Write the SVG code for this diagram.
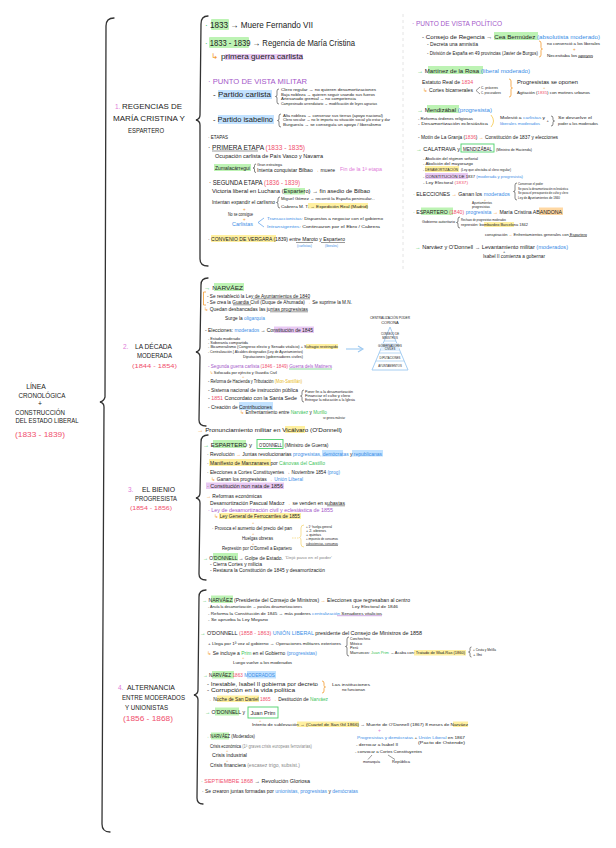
<svg xmlns="http://www.w3.org/2000/svg" width="616" height="848" viewBox="0 0 616 848">
<style>
text{font-family:"Liberation Sans",Arial,sans-serif;fill:#222;}
.r{fill:#f0506e}.b{fill:#3a8de6}.p{fill:#a457c9}.g{fill:#3cc45a}.o{fill:#f29a2e}.k{fill:#e07ad8}.gr{fill:#888}.y{fill:#e8b820}
.hg{fill:#bdf3b4}.hb{fill:#c2e2ff}.hy{fill:#fff0a0}.hp{fill:#e8c9f3}.ho{fill:#ffd8a3}
.br{fill:none;stroke:#333;stroke-width:1.3;stroke-linecap:round}
.ln{fill:none;stroke:#333;stroke-width:0.5}
.cb{fill:none;stroke:#333;stroke-width:0.6}
.ob{fill:none;stroke:#f29a2e;stroke-width:0.8}
.bx{fill:none;stroke:#4cd06a;stroke-width:0.9}
.ti{font-size:6.8px}
</style>
<rect width="616" height="848" fill="#fff"/>

<g id="connectors">
<path class="br" d="M114,18 Q106,18 106,26 L105,397 Q104,401 100,402 Q104,403 104,407 L102,824 Q102,832 110,832"/>
<path class="br" d="M208,16 Q201,16 201,24 L200,115 Q200,119 196,120 Q200,121 200,125 L200,259 Q200,266 208,266"/>
<path class="br" d="M208,278 Q201,278 201,285 L200,347 Q200,351 196,352 Q200,353 200,357 L199,420 Q199,426 206,426"/>
<path class="br" d="M208,435 Q201,435 201,442 L200,493 Q200,497 196,498 Q200,499 200,503 L199,574 Q199,580 206,580"/>
<path class="br" d="M206,590 Q199,590 199,597 L198,690 Q198,694 194,695 Q198,696 198,700 L197,798 Q197,804 203,804"/>
<line x1="403" y1="14" x2="403" y2="272" stroke="#ddd" stroke-width="0.8" stroke-dasharray="3,3"/>
<line x1="346" y1="349" x2="362" y2="349" stroke="#9cc8f0" stroke-width="1.1"/>
<path d="M358,346 L363,349 L358,352" fill="none" stroke="#9cc8f0" stroke-width="1.1"/>
<path class="cb" d="M279,89 Q277,89 277,91 L277,95 Q277,96.5 275.5,96.5 Q277,96.5 277,98 L277,102 Q277,104 279,104"/>
<path class="cb" d="M281,114 Q279,114 279,116 L279,119 Q279,120.5 277.5,120.5 Q279,120.5 279,122 L279,125 Q279,127 281,127"/>
<path class="cb" d="M256,164 Q254.5,164 254.5,165.5 L254.5,167 Q254.5,168 253,168 Q254.5,168 254.5,169 L254.5,171 Q254.5,172.5 256,172.5"/>
<path class="cb" d="M280,197 Q278,197 278,199 L278,201 Q278,202.5 276.5,202.5 Q278,202.5 278,204 L278,206 Q278,208 280,208"/>
<path class="ob" d="M539,41 Q541,41 541,43 L541,47.5 Q541,49 542.5,49 Q541,49 541,50.5 L541,55 Q541,57 539,57"/>
<path class="ob" d="M509,79 Q511,79 511,81 L511,86.5 Q511,88 512.5,88 Q511,88 511,89.5 L511,95 Q511,97 509,97"/>
<path class="cb" d="M551,116 Q553,116 553,118 L553,119.5 Q553,121 554.5,121 Q553,121 553,122.5 L553,124 Q553,126 551,126"/>
<path class="cb" d="M517,183 Q515,183 515,185 L515,190 Q515,191.5 513.5,191.5 Q515,191.5 515,193 L515,198 Q515,200 517,200"/>
<path class="cb" d="M460,217 Q458,217 458,219 L458,221 Q458,222.5 456.5,222.5 Q458,222.5 458,224 L458,226 Q458,228 460,228"/>
<path class="cb" d="M304,390 Q302,390 302,392 L302,394.5 Q302,396 300.5,396 Q302,396 302,397.5 L302,400 Q302,402 304,402"/>
<path class="cb" d="M349,637 Q347,637 347,639 L347,645 Q347,646.5 345.5,646.5 Q347,646.5 347,648 L347,654 Q347,656 349,656"/>
<path class="cb" d="M471.5,647 Q470,647 470,648.5 L470,650.5 Q470,652 468.5,652 Q470,652 470,653.5 L470,655.5 Q470,657 471.5,657"/>
<path class="ob" d="M322,681 Q324,681 324,683 L324,685.5 Q324,687 325.5,687 Q324,687 324,688.5 L324,691 Q324,693 322,693"/>
<path d="M304,525 Q301,525 301,528 L301,535 Q301,537 299.5,537.5 Q301,538 301,540 L301,544 Q301,547 304,547" fill="none" stroke="#f5d36a" stroke-width="0.7"/>
<line x1="292" y1="538" x2="299" y2="538" stroke="#f5d36a" stroke-width="0.7" stroke-dasharray="1.5,1"/>
<path d="M491,115 Q496,121 491,127" fill="none" stroke="#f5c84a" stroke-width="0.8"/>
<path d="M264,218 L258,222.5 L264,227" fill="none" stroke="#3a8de6" stroke-width="0.6"/>
<path d="M480,87 L476,90.5 L480,94" class="ln"/>
<path class="ob" d="M206,292 L203.5,292 L203.5,305 L206,305"/>
<path class="ln" d="M372,755 L368,759.5 M388,755 L395,759.5"/>
</g>

<g id="main-title">
<text x="36" y="389" text-anchor="middle" class="ti">LÍNEA</text>
<text x="42" y="397.5" text-anchor="middle" class="ti" textLength="47" lengthAdjust="spacingAndGlyphs">CRONOLÓGICA</text>
<text x="40" y="405.5" text-anchor="middle" class="ti">+</text>
<text x="40" y="414.5" text-anchor="middle" class="ti" textLength="50" lengthAdjust="spacingAndGlyphs">CONSTRUCCIÓN</text>
<text x="47" y="423" text-anchor="middle" class="ti" textLength="63" lengthAdjust="spacingAndGlyphs">DEL ESTADO LIBERAL</text>
<text x="40" y="437" text-anchor="middle" class="r" font-size="8" textLength="50" lengthAdjust="spacingAndGlyphs">(1833 - 1839)</text>
</g>

<g id="title-1">
<text x="115" y="109" class="k" font-size="6.5">1.</text>
<text x="122" y="109" class="ti" textLength="60" lengthAdjust="spacingAndGlyphs">REGENCIAS DE</text>
<text x="113" y="121" class="ti" textLength="72" lengthAdjust="spacingAndGlyphs">MARÍA CRISTINA Y</text>
<text x="128" y="133" class="ti" textLength="36" lengthAdjust="spacingAndGlyphs">ESPARTERO</text>
</g>
<g id="title-2">
<text x="123" y="349" class="k" font-size="6.5">2.</text>
<text x="135" y="349" class="ti" textLength="37" lengthAdjust="spacingAndGlyphs">LA DÉCADA</text>
<text x="137" y="358" class="ti" textLength="35" lengthAdjust="spacingAndGlyphs">MODERADA</text>
<text x="132" y="367.5" class="r" font-size="6" textLength="45" lengthAdjust="spacingAndGlyphs">(1844 - 1854)</text>
</g>
<g id="title-3">
<text x="128" y="492" class="k" font-size="6.5">3.</text>
<text x="142" y="492" class="ti" textLength="33" lengthAdjust="spacingAndGlyphs">EL BIENIO</text>
<text x="135" y="501" class="ti" textLength="42" lengthAdjust="spacingAndGlyphs">PROGRESISTA</text>
<text x="130" y="510" class="r" font-size="6" textLength="42" lengthAdjust="spacingAndGlyphs">(1854 - 1856)</text>
</g>
<g id="title-4">
<text x="118" y="689.5" class="k" font-size="6.5">4.</text>
<text x="127" y="689.5" class="ti" textLength="48" lengthAdjust="spacingAndGlyphs">ALTERNANCIA</text>
<text x="122" y="700" class="ti" textLength="63" lengthAdjust="spacingAndGlyphs">ENTRE MODERADOS</text>
<text x="125" y="709.5" class="ti" textLength="43" lengthAdjust="spacingAndGlyphs">Y UNIONISTAS</text>
<text x="123" y="721" class="r" font-size="7" textLength="50" lengthAdjust="spacingAndGlyphs">(1856 - 1868)</text>
</g>

<g id="s1-regencia">
<rect class="hg" x="211" y="19" width="18" height="11" rx="1"/>
<text x="205" y="28" font-size="8.5" textLength="108" lengthAdjust="spacingAndGlyphs"><tspan class="g">·</tspan> 1833 → Muere Fernando VII</text>
<rect class="hg" x="209" y="37" width="40" height="11" rx="1"/>
<text x="205" y="46" font-size="8.5" textLength="150" lengthAdjust="spacingAndGlyphs"><tspan class="g">·</tspan> 1833 - 1839 → Regencia de María Cristina</text>
<rect class="hp" x="225" y="54" width="78" height="6"/>
<text x="211" y="59" font-size="7.5" textLength="92" lengthAdjust="spacingAndGlyphs"><tspan class="o">↳</tspan>   primera guerra carlista</text>
</g>

<g id="s1-militar">
<text x="208" y="84" font-size="7" class="p" textLength="99" lengthAdjust="spacingAndGlyphs">· PUNTO DE VISTA MILITAR</text>
<rect class="hb" x="218" y="90" width="54" height="9"/>
<text x="213" y="97" font-size="7" textLength="58" lengthAdjust="spacingAndGlyphs">- Partido carlista</text>
<text x="281" y="91" font-size="3.8" textLength="95" lengthAdjust="spacingAndGlyphs">Clero regular → no quieren desamortizaciones</text>
<text x="281" y="95.5" font-size="3.8" textLength="94" lengthAdjust="spacingAndGlyphs">Baja nobleza → quieren seguir usando sus fueros</text>
<text x="281" y="100" font-size="3.8" textLength="75" lengthAdjust="spacingAndGlyphs">Artesanado gremial → no competencia</text>
<text x="281" y="104.5" font-size="3.8" textLength="96" lengthAdjust="spacingAndGlyphs">Campesinado arrendatario → modificación de leyes agrarias</text>
<rect class="hb" x="218" y="115" width="56" height="9"/>
<text x="213" y="122" font-size="7" textLength="60" lengthAdjust="spacingAndGlyphs">- Partido isabelino</text>
<text x="283" y="116.5" font-size="3.8" textLength="100" lengthAdjust="spacingAndGlyphs">Alta nobleza → conservar sus tierras (apoyo nacional)</text>
<text x="283" y="121" font-size="3.8" textLength="107" lengthAdjust="spacingAndGlyphs">Clero secular → no le importa su situación social y/o estar y dar</text>
<text x="283" y="125.5" font-size="3.8" textLength="98" lengthAdjust="spacingAndGlyphs">Burguesía → se conseguía un apoyo / liberalismo</text>
</g>

<g id="s1-etapas">
<text x="208" y="139" font-size="5.5" textLength="20" lengthAdjust="spacingAndGlyphs">· ETAPAS</text>
<text x="208" y="149.5" font-size="6.5" textLength="97" lengthAdjust="spacingAndGlyphs">· PRIMERA ETAPA <tspan class="r">(1833 - 1835)</tspan></text>
<line class="ln" x1="212" y1="151" x2="258" y2="151"/>
<text x="215" y="158" font-size="5" textLength="108" lengthAdjust="spacingAndGlyphs">Ocupación carlista de País Vasco y Navarra</text>
<rect class="hg" x="214" y="164" width="37" height="7"/>
<text x="215" y="170" font-size="5.5" textLength="35" lengthAdjust="spacingAndGlyphs">Zumalacárregui</text>
<text x="257" y="166" font-size="4" textLength="25" lengthAdjust="spacingAndGlyphs">Gran estratega</text>
<text x="257" y="172" font-size="4.5" textLength="78" lengthAdjust="spacingAndGlyphs">Intenta conquistar Bilbao <tspan class="o">→</tspan> muere</text>
<text x="340" y="171" font-size="4.5" class="k" textLength="42" lengthAdjust="spacingAndGlyphs">Fin de la 1ª etapa</text>
<text x="209" y="184.5" font-size="6.5" textLength="91" lengthAdjust="spacingAndGlyphs">· SEGUNDA ETAPA <tspan class="r">(1836 - 1839)</tspan></text>
<rect class="hg" x="284" y="188" width="21" height="6.5"/>
<text x="212" y="193" font-size="5" textLength="158" lengthAdjust="spacingAndGlyphs">Victoria liberal en Luchana (Espartero) → fin asedio de Bilbao</text>
<text x="212" y="204" font-size="4.8" textLength="63" lengthAdjust="spacingAndGlyphs">Intentan expandir el carlismo</text>
<text x="281" y="199.5" font-size="4.2" textLength="94" lengthAdjust="spacingAndGlyphs">Miguel Gómez → recorrió la España peninsular...</text>
<rect class="hy" x="308" y="203" width="60" height="5.5"/>
<text x="281" y="207.5" font-size="4.2" textLength="87" lengthAdjust="spacingAndGlyphs">Cabrera M. T. → Expedición Real (Madrid)</text>
<text x="243" y="210.5" font-size="4.5" class="o">+</text>
<text x="228" y="216" font-size="5" textLength="25" lengthAdjust="spacingAndGlyphs">No se consigue</text>
<text x="243" y="220.5" font-size="4.5" class="o">+</text>
<text x="232" y="225.5" font-size="5" class="b" textLength="21" lengthAdjust="spacingAndGlyphs">Carlistas</text>
<text x="267" y="219.5" font-size="4.3" textLength="116" lengthAdjust="spacingAndGlyphs"><tspan class="b">Transaccionistas:</tspan> Dispuestos a negociar con el gobierno</text>
<text x="267" y="228" font-size="4.3" textLength="113" lengthAdjust="spacingAndGlyphs"><tspan class="b">Intransigentes:</tspan> Continuaron por el Ebro / Cabrera</text>
<rect class="hy" x="211" y="235" width="65" height="7"/>
<text x="208" y="241" font-size="5.5" textLength="137" lengthAdjust="spacingAndGlyphs">· CONVENIO DE VERGARA (1839) entre Maroto y Espartero</text>
<line class="ln" x1="296" y1="242.5" x2="313" y2="242.5"/>
<line class="ln" x1="321" y1="242.5" x2="345" y2="242.5"/>
<text x="297" y="246.5" font-size="3" class="b" textLength="15" lengthAdjust="spacingAndGlyphs">(carlistas)</text>
<text x="325" y="246.5" font-size="3" class="b" textLength="13" lengthAdjust="spacingAndGlyphs">(liberales)</text>
</g>

<g id="s1-politico">
<text x="412" y="26" font-size="7" class="p" textLength="90" lengthAdjust="spacingAndGlyphs">· PUNTO DE VISTA POLÍTICO</text>
<rect class="hg" x="494" y="32" width="44" height="8"/>
<text x="422" y="38.5" font-size="6" textLength="178" lengthAdjust="spacingAndGlyphs">- Consejo de Regencia → Cea Bermúdez <tspan class="b">(absolutista moderado)</tspan></text>
<text x="427" y="45.5" font-size="4.5" textLength="51" lengthAdjust="spacingAndGlyphs">- Decreta una amnistía</text>
<text x="427" y="54.5" font-size="4.5" textLength="111" lengthAdjust="spacingAndGlyphs">- División de España en 49 provincias (Javier de Burgos)</text>
<text x="547" y="44.5" font-size="4" textLength="53" lengthAdjust="spacingAndGlyphs">no convenció a los liberales</text>
<text x="573" y="50.5" font-size="4.5" class="o">+</text>
<text x="547" y="56.5" font-size="4" textLength="46" lengthAdjust="spacingAndGlyphs">Necesitaba los apoyos</text>
<line class="ln" x1="578" y1="57.5" x2="593" y2="57.5"/>
<rect class="hg" x="428" y="66" width="55" height="8"/>
<text x="417" y="72.5" font-size="5.5" textLength="113" lengthAdjust="spacingAndGlyphs"><tspan class="g">→</tspan>  Martínez de la Rosa  <tspan class="b">(liberal moderado)</tspan></text>
<text x="422" y="84" font-size="4.5" textLength="51" lengthAdjust="spacingAndGlyphs">Estatuto Real de <tspan class="r">1834</tspan></text>
<text x="423" y="91.5" font-size="4.5" textLength="50" lengthAdjust="spacingAndGlyphs"><tspan class="o">↳</tspan> Cortes bicamerales</text>
<text x="481" y="88.5" font-size="3.5" textLength="17" lengthAdjust="spacingAndGlyphs">C. próceres</text>
<text x="481" y="94" font-size="3.5" textLength="20" lengthAdjust="spacingAndGlyphs">C. procuradores</text>
<text x="517" y="84" font-size="4.5" textLength="61" lengthAdjust="spacingAndGlyphs">Progresistas se oponen</text>
<text x="543" y="88.8" font-size="4" class="o">+</text>
<text x="517" y="93.5" font-size="4.3" textLength="73" lengthAdjust="spacingAndGlyphs">Agitación (<tspan class="r">1835</tspan>) con motines urbanos</text>
<rect class="hg" x="427" y="105" width="32" height="8"/>
<text x="417" y="111.5" font-size="5.5" textLength="75" lengthAdjust="spacingAndGlyphs"><tspan class="g">→</tspan>  Mendizábal  <tspan class="b">(progresista)</tspan></text>
<text x="418" y="119.5" font-size="4.2" textLength="55" lengthAdjust="spacingAndGlyphs">- Reforma órdenes religiosas</text>
<text x="418" y="124.5" font-size="4.2" textLength="70" lengthAdjust="spacingAndGlyphs">- Desamortización eclesiástica</text>
<text x="500" y="119" font-size="4.3" textLength="45" lengthAdjust="spacingAndGlyphs">Molestó a <tspan class="b">carlistas</tspan> y</text>
<text x="500" y="124.5" font-size="4.3" class="b" textLength="40" lengthAdjust="spacingAndGlyphs">liberales moderados</text>
<text x="546.5" y="122" font-size="4">+</text>
<text x="558" y="119" font-size="4.3" textLength="34" lengthAdjust="spacingAndGlyphs">Se devuelve el</text>
<text x="558" y="124.5" font-size="4.3" textLength="40" lengthAdjust="spacingAndGlyphs">poder a los moderados</text>
<text x="418" y="138.5" font-size="4.8" textLength="140" lengthAdjust="spacingAndGlyphs">- Motín de La Granja (<tspan class="r">1836</tspan>) <tspan class="o">→</tspan> Constitución de 1837 y elecciones</text>
</g>

<g id="s1-espartero">
<text x="416" y="150.5" font-size="5" textLength="44" lengthAdjust="spacingAndGlyphs"><tspan class="g">→</tspan>  CALATRAVA y</text>
<rect class="bx" x="461" y="144" width="33" height="8"/>
<text x="463" y="150.5" font-size="5" textLength="29" lengthAdjust="spacingAndGlyphs">MENDIZÁBAL</text>
<text x="496" y="150.5" font-size="4" textLength="36" lengthAdjust="spacingAndGlyphs">(Ministro de Hacienda)</text>
<text x="423" y="159.5" font-size="4.3" textLength="55" lengthAdjust="spacingAndGlyphs">- Abolición del régimen señorial</text>
<text x="423" y="165" font-size="4.3" textLength="50" lengthAdjust="spacingAndGlyphs">- Abolición del mayorazgo</text>
<rect class="hy" x="425" y="166" width="34" height="6"/>
<text x="423" y="170.5" font-size="4.3" textLength="35" lengthAdjust="spacingAndGlyphs">- DESAMORTIZACIÓN</text>
<text x="461" y="170.5" font-size="3.3" textLength="50" lengthAdjust="spacingAndGlyphs">(Ley que afectaba al clero regular)</text>
<rect class="hp" x="425" y="173" width="43" height="6"/>
<text x="423" y="177.5" font-size="4.3" textLength="100" lengthAdjust="spacingAndGlyphs">- CONSTITUCIÓN DE 1837 <tspan class="b">(moderada y progresista)</tspan></text>
<text x="423" y="183.5" font-size="4.3" textLength="45" lengthAdjust="spacingAndGlyphs">- Ley Electoral <tspan class="r">(1837)</tspan></text>
<text x="413" y="195.5" font-size="5.5" textLength="97" lengthAdjust="spacingAndGlyphs"><tspan class="g">·</tspan> ELECCIONES <tspan class="o">→</tspan> Ganan los <tspan class="b">moderados</tspan></text>
<text x="518" y="185" font-size="3.2" textLength="25" lengthAdjust="spacingAndGlyphs">Conservan el poder</text>
<text x="518" y="189.5" font-size="3.2" textLength="50" lengthAdjust="spacingAndGlyphs">Se para la desamortización eclesiástica</text>
<text x="518" y="194" font-size="3.2" textLength="50" lengthAdjust="spacingAndGlyphs">Se pasa el presupuesto de culto y clero</text>
<text x="518" y="198.5" font-size="3.2" textLength="42" lengthAdjust="spacingAndGlyphs">Ley de Ayuntamientos de 1840</text>
<text x="484" y="200.8" font-size="3.5" class="o">+</text>
<text x="472" y="204" font-size="3" textLength="20" lengthAdjust="spacingAndGlyphs">Ayuntamientos</text>
<text x="472" y="207.5" font-size="3" textLength="18" lengthAdjust="spacingAndGlyphs">progresistas</text>
<rect class="hg" x="421" y="207.5" width="32" height="7.5"/>
<rect class="ho" x="539" y="207.5" width="24" height="7.5"/>
<text x="413" y="213.5" font-size="5.5" textLength="149" lengthAdjust="spacingAndGlyphs"><tspan class="g">·</tspan> ESPARTERO <tspan class="r">(1840)</tspan> <tspan class="b">progresista</tspan> <tspan class="o">→</tspan> María Cristina ABANDONA</text>
<text x="422" y="222.5" font-size="4.2" textLength="33" lengthAdjust="spacingAndGlyphs">Gobierno autoritario</text>
<text x="461" y="220.5" font-size="3.6" textLength="45" lengthAdjust="spacingAndGlyphs">Rechazo de progresistas moderados</text>
<rect class="hy" x="484" y="222" width="30" height="5"/>
<text x="461" y="226" font-size="3.6" textLength="67" lengthAdjust="spacingAndGlyphs">represión: bombardeo Barcelona 1842</text>
<text x="485" y="235.5" font-size="4.2" textLength="102" lengthAdjust="spacingAndGlyphs">conspiración <tspan class="o">→</tspan> Enfrentamientos generales con Espartero</text>
<line class="ln" x1="569" y1="236.5" x2="587" y2="236.5"/>
<text x="415" y="249" font-size="4.8" textLength="153" lengthAdjust="spacingAndGlyphs"><tspan class="g">→</tspan>  Narváez y O'Donnell → Levantamiento militar <tspan class="b">(moderados)</tspan></text>
<text x="503" y="253.3" font-size="4">+</text>
<text x="483" y="258" font-size="4.5" textLength="62" lengthAdjust="spacingAndGlyphs">Isabel II comienza a gobernar</text>
</g>

<g id="s2-narvaez">
<rect class="hg" x="214" y="283" width="30" height="8"/>
<text x="204" y="289.5" font-size="6" textLength="39" lengthAdjust="spacingAndGlyphs"><tspan class="g">→</tspan>  NARVÁEZ</text>
<text x="207" y="297.5" font-size="4.5" textLength="103" lengthAdjust="spacingAndGlyphs">- Se restableció la Ley de Ayuntamientos de 1840</text>
<line class="ln" x1="253" y1="298.8" x2="310" y2="298.8"/>
<text x="207" y="303.5" font-size="4.5" textLength="145" lengthAdjust="spacingAndGlyphs">- Se crea la Guardia Civil (Duque de Ahumada) <tspan class="o">→</tspan> Se suprime la M.N.</text>
<line class="ln" x1="233" y1="304.8" x2="251" y2="304.8"/>
<text x="204" y="310.5" font-size="4.5" textLength="104" lengthAdjust="spacingAndGlyphs"><tspan class="o">↳</tspan>  Quedan desbancadas las juntas progresistas</text>
<line class="ln" x1="270" y1="311.8" x2="308" y2="311.8"/>
<text x="225" y="319.5" font-size="4.5" textLength="40" lengthAdjust="spacingAndGlyphs">Surge la <tspan class="b">oligarquía</tspan></text>
<rect class="hp" x="274" y="326.5" width="40" height="6.5"/>
<text x="205" y="331.5" font-size="5" textLength="108" lengthAdjust="spacingAndGlyphs">- Elecciones: <tspan class="b">moderados</tspan> → Constitución de 1845</text>
<text x="208" y="339.5" font-size="3.8" textLength="32" lengthAdjust="spacingAndGlyphs">- Estado moderado</text>
<text x="208" y="343.5" font-size="3.8" textLength="40" lengthAdjust="spacingAndGlyphs">- Soberanía compartida</text>
<rect class="hy" x="306" y="344" width="32" height="5"/>
<text x="208" y="348" font-size="3.8" textLength="130" lengthAdjust="spacingAndGlyphs">- Bicameralismo (Congreso electo y Senado vitalicio) + Sufragio restringido</text>
<text x="208" y="353" font-size="3.8" textLength="95" lengthAdjust="spacingAndGlyphs">- Centralización { Alcaldes designados (Ley de Ayuntamientos)</text>
<text x="243" y="357.5" font-size="3.8" textLength="60" lengthAdjust="spacingAndGlyphs">Diputaciones (gobernadores civiles)</text>
</g>

<g id="s2-piramide">
<text x="390" y="318.5" text-anchor="middle" font-size="4" textLength="40" lengthAdjust="spacingAndGlyphs">CENTRALIZACIÓN PODER</text>
<text x="390" y="324" text-anchor="middle" font-size="4">CORONA</text>
<polygon points="390,327 372,370 408,370" fill="none" stroke="#9cc8f0" stroke-width="0.9"/>
<line x1="384" y1="341" x2="396" y2="341" stroke="#9cc8f0" stroke-width="0.7"/>
<line x1="379" y1="353" x2="401" y2="353" stroke="#9cc8f0" stroke-width="0.7"/>
<line x1="376" y1="361" x2="404" y2="361" stroke="#9cc8f0" stroke-width="0.7"/>
<text x="390" y="334.5" text-anchor="middle" font-size="2.8">CONSEJO DE</text>
<text x="390" y="338.5" text-anchor="middle" font-size="2.8">MINISTROS</text>
<rect x="381" y="343" width="18" height="8" fill="#e3f1ff"/>
<text x="390" y="346.5" text-anchor="middle" font-size="2.8">GOBERNADORES</text>
<text x="390" y="350.3" text-anchor="middle" font-size="2.8">CIVILES</text>
<text x="390" y="358.5" text-anchor="middle" font-size="2.8">DIPUTACIONES</text>
<text x="390" y="367" text-anchor="middle" font-size="2.8">AYUNTAMIENTOS</text>
</g>

<g id="s2-reformas">
<text x="208" y="367.5" font-size="4.5" class="p" textLength="124" lengthAdjust="spacingAndGlyphs">- Segunda guerra carlista <tspan class="r">(1846 - 1849)</tspan> Guerra dels Matiners</text>
<line x1="289" y1="369" x2="332" y2="369" stroke="#3cc45a" stroke-width="0.6"/>
<text x="210" y="373.8" font-size="4.2" textLength="67" lengthAdjust="spacingAndGlyphs"><tspan class="o">↳</tspan> Sofocada por ejército y Guardia Civil</text>
<text x="242" y="378.3" font-size="4" class="o">+</text>
<text x="208" y="383.2" font-size="4.6" textLength="94" lengthAdjust="spacingAndGlyphs">- Reforma de Hacienda y Tributación <tspan class="y">(Mon-Santillán)</tspan></text>
<text x="208" y="391.5" font-size="4.8" textLength="90" lengthAdjust="spacingAndGlyphs">- Sistema nacional de instrucción pública</text>
<text x="208" y="399.5" font-size="4.8" textLength="89" lengthAdjust="spacingAndGlyphs">- <tspan class="r">1851</tspan> Concordato con la Santa Sede</text>
<text x="305" y="393" font-size="3" textLength="48" lengthAdjust="spacingAndGlyphs">Poner fin a la desamortización</text>
<text x="305" y="397" font-size="3" textLength="45" lengthAdjust="spacingAndGlyphs">Financiar el culto y clero</text>
<text x="305" y="401" font-size="3" textLength="50" lengthAdjust="spacingAndGlyphs">Entregar la educación a la Iglesia</text>
<rect class="hb" x="239" y="402" width="34" height="8"/>
<text x="208" y="408.5" font-size="5" textLength="64" lengthAdjust="spacingAndGlyphs">- Creación de Contribuciones</text>
<text x="240" y="414" font-size="4.5" textLength="87" lengthAdjust="spacingAndGlyphs"><tspan class="o">↳</tspan> Enfrentamiento entre <tspan class="g">Narváez</tspan> y <tspan class="g">Murillo</tspan></text>
<text x="323" y="419" font-size="3" textLength="22" lengthAdjust="spacingAndGlyphs">se genera malestar</text>
<rect class="hy" x="285" y="426" width="20" height="7"/>
<text x="197" y="431.5" font-size="5" textLength="145" lengthAdjust="spacingAndGlyphs"><tspan class="o">→</tspan>   Pronunciamiento militar en Vicálvaro    (O'Donnell)</text>
</g>

<g id="s3-bienio">
<rect class="hg" x="213" y="440" width="33" height="8"/>
<text x="203" y="446.5" font-size="5.5" textLength="49" lengthAdjust="spacingAndGlyphs"><tspan class="g">→</tspan>  ESPARTERO  y</text>
<rect class="bx" x="257" y="439.5" width="26" height="9"/>
<text x="259" y="446.5" font-size="5" textLength="23" lengthAdjust="spacingAndGlyphs">O'DONNELL</text>
<text x="284.5" y="446.5" font-size="4.5" textLength="44" lengthAdjust="spacingAndGlyphs">(Ministro de Guerra)</text>
<rect class="hb" x="322" y="450" width="21" height="6.5"/>
<rect class="hb" x="352" y="450" width="31" height="6.5"/>
<text x="207" y="455.5" font-size="4.8" textLength="175" lengthAdjust="spacingAndGlyphs">· Revolución <tspan class="o">→</tspan> Juntas revolucionarias <tspan class="b">progresistas, demócratas</tspan> y <tspan class="b">republicanas</tspan></text>
<rect class="hy" x="209" y="459" width="62" height="7"/>
<text x="207" y="464.5" font-size="4.8" textLength="118" lengthAdjust="spacingAndGlyphs">· Manifiesto de Manzanares por <tspan class="g">Cánovas del Castillo</tspan></text>
<text x="207" y="473.5" font-size="4.5" textLength="133" lengthAdjust="spacingAndGlyphs">· Elecciones a Cortes Constituyentes → Noviembre 1854 <tspan class="b">(prog)</tspan></text>
<text x="211" y="480.5" font-size="4.5" textLength="92" lengthAdjust="spacingAndGlyphs"><tspan class="o">↳</tspan> Ganan los progresistas <tspan class="o">→</tspan> <tspan class="b">Unión Liberal</tspan></text>
<rect class="hp" x="206" y="482.5" width="78" height="6.5"/>
<text x="207" y="487.7" font-size="4.5" textLength="76" lengthAdjust="spacingAndGlyphs">· Constitución non nata de 1856</text>
<text x="206" y="498" font-size="5" textLength="56" lengthAdjust="spacingAndGlyphs"><tspan class="o">→</tspan> Reformas económicas</text>
<text x="210" y="504.5" font-size="4.5" textLength="135" lengthAdjust="spacingAndGlyphs">Desamortización Pascual Madoz <tspan class="o">→</tspan> se venden en subastas</text>
<line class="ln" x1="327" y1="505.8" x2="345" y2="505.8"/>
<text x="208" y="511.5" font-size="4.5" class="p" textLength="125" lengthAdjust="spacingAndGlyphs">· Ley de desamortización civil y eclesiástica de 1855</text>
<rect class="hy" x="219" y="513" width="82" height="6"/>
<text x="214" y="518" font-size="4.5" textLength="86" lengthAdjust="spacingAndGlyphs"><tspan class="o">↳</tspan> Ley General de Ferrocarriles de 1855</text>
<text x="252" y="524.3" font-size="4" class="o">+</text>
<text x="212" y="530" font-size="4.5" textLength="80" lengthAdjust="spacingAndGlyphs">· Provoca el aumento del precio del pan</text>
<text x="252" y="535.3" font-size="4" class="o">+</text>
<text x="242" y="540" font-size="4.5" textLength="31" lengthAdjust="spacingAndGlyphs">Huelgas obreras</text>
<text x="252" y="544.5" font-size="4" class="o">+</text>
<text x="222" y="549.5" font-size="4.5" textLength="70" lengthAdjust="spacingAndGlyphs">Represión por O'Donnell a Espartero</text>
<text x="306" y="527.5" font-size="3" textLength="26" lengthAdjust="spacingAndGlyphs">+ 1ª huelga general</text>
<text x="306" y="531.5" font-size="3" textLength="20" lengthAdjust="spacingAndGlyphs">+ 2. obreros</text>
<text x="306" y="535.5" font-size="3" textLength="15" lengthAdjust="spacingAndGlyphs">+ quintas</text>
<text x="306" y="539.5" font-size="3" textLength="32" lengthAdjust="spacingAndGlyphs">+ impuesto de consumos</text>
<text x="306" y="544.5" font-size="3" textLength="32" lengthAdjust="spacingAndGlyphs">subsistencias, consumos</text>
<line class="ln" x1="306" y1="545.5" x2="338" y2="545.5"/>
<rect class="hg" x="213" y="553" width="25" height="7.5"/>
<text x="203" y="559.5" font-size="5" textLength="80" lengthAdjust="spacingAndGlyphs"><tspan class="g">→</tspan>  O'DONNELL → Golpe de Estado.</text>
<text x="285" y="559" font-size="4" class="gr" textLength="47" lengthAdjust="spacingAndGlyphs">'Dejó paso en el poder'</text>
<text x="210" y="566.3" font-size="4.5" textLength="52" lengthAdjust="spacingAndGlyphs">- Cierra Cortes y milicia</text>
<text x="210" y="571.8" font-size="4.5" textLength="115" lengthAdjust="spacingAndGlyphs">- Restaura la Constitución de 1845 y desamortización</text>
</g>

<g id="s4-alternancia">
<rect class="hg" x="211" y="595.5" width="22" height="7.5"/>
<text x="202" y="601.5" font-size="4.8" textLength="208" lengthAdjust="spacingAndGlyphs"><tspan class="g">→</tspan>  NARVÁEZ  (Presidente del Consejo de Ministros) <tspan class="o">→</tspan> Elecciones que regresaban al centro</text>
<text x="352" y="607.5" font-size="3.6" textLength="46" lengthAdjust="spacingAndGlyphs">Ley Electoral de 1846</text>
<text x="208" y="608.3" font-size="4.3" textLength="94" lengthAdjust="spacingAndGlyphs">- Anula la desamortización → paraliza desamortizaciones</text>
<text x="208" y="614.5" font-size="4.3" textLength="174" lengthAdjust="spacingAndGlyphs">- Reforma la Constitución de 1845 → más poderes <tspan class="b">centralización</tspan>  Senadores vitalicios</text>
<line x1="337" y1="615.7" x2="382" y2="615.7" stroke="#a457c9" stroke-width="0.5"/>
<text x="208" y="620.7" font-size="4.3" textLength="60" lengthAdjust="spacingAndGlyphs">- Se aprueba la Ley Moyano</text>
<text x="200" y="634.5" font-size="5.3" textLength="222" lengthAdjust="spacingAndGlyphs"><tspan class="g">→</tspan>  O'DONNELL <tspan class="r">(1858 - 1863)</tspan> <tspan class="b">UNIÓN LIBERAL</tspan> presidente del Consejo de Ministros de 1858</text>
<text x="208" y="644.5" font-size="4.3" textLength="133" lengthAdjust="spacingAndGlyphs">+ Llega por 1ª vez al gobierno → Operaciones militares exteriores</text>
<text x="350" y="640" font-size="3" textLength="20" lengthAdjust="spacingAndGlyphs">Conchinchina</text>
<text x="350" y="644.5" font-size="3" textLength="12" lengthAdjust="spacingAndGlyphs">México</text>
<text x="350" y="648.5" font-size="3" textLength="8" lengthAdjust="spacingAndGlyphs">Perú</text>
<rect class="hy" x="414" y="650" width="52" height="5.5"/>
<text x="350" y="654" font-size="3.4" textLength="115" lengthAdjust="spacingAndGlyphs">Marruecos:  <tspan class="g">Juan Prim</tspan> → Acaba con: Tratado de Wad-Ras (1860)</text>
<text x="473" y="650.5" font-size="3" textLength="23" lengthAdjust="spacingAndGlyphs">+ Ceuta y Melilla</text>
<text x="473" y="656" font-size="3" textLength="9" lengthAdjust="spacingAndGlyphs">+ Ifni</text>
<text x="207" y="654.5" font-size="4.5" textLength="110" lengthAdjust="spacingAndGlyphs"><tspan class="o">↳</tspan>  Se incluye a <tspan class="g">Prim</tspan> en el Gobierno <tspan class="b">(progresistas)</tspan></text>
<text x="242" y="659.3" font-size="4" class="o">+</text>
<text x="233" y="663.8" font-size="4" textLength="59" lengthAdjust="spacingAndGlyphs">Luego vuelve a los moderados</text>
<rect class="hg" x="212" y="671" width="22" height="7.5"/>
<rect class="hb" x="247" y="671" width="29" height="7.5"/>
<text x="203" y="677" font-size="5" textLength="72" lengthAdjust="spacingAndGlyphs"><tspan class="g">→</tspan>  NARVÁEZ  <tspan class="r">1863</tspan>  <tspan class="b">MODERADOS</tspan></text>
<text x="207" y="685.5" font-size="4.5" textLength="111" lengthAdjust="spacingAndGlyphs">- Inestable, Isabel II gobierna por decreto</text>
<text x="207" y="691.5" font-size="4.5" textLength="88" lengthAdjust="spacingAndGlyphs">- Corrupción en la vida política</text>
<text x="332" y="685.5" font-size="4.3" textLength="38" lengthAdjust="spacingAndGlyphs">Las instituciones</text>
<text x="342" y="691" font-size="4" textLength="23" lengthAdjust="spacingAndGlyphs">no funcionan</text>
<rect class="hy" x="217" y="695.5" width="42" height="6.5"/>
<text x="207" y="700.8" font-size="4.5" textLength="121" lengthAdjust="spacingAndGlyphs"><tspan class="o">→</tspan>  Noche de San Daniel <tspan class="r">1865</tspan> <tspan class="o">→</tspan> Destitución de <tspan class="g">Narváez</tspan></text>
</g>

<g id="s4-crisis">
<rect class="hg" x="215" y="707.5" width="24" height="8"/>
<text x="205" y="713.8" font-size="5" textLength="40" lengthAdjust="spacingAndGlyphs"><tspan class="g">→</tspan>  O'DONNELL  y</text>
<rect class="bx" x="248" y="707" width="30" height="11"/>
<text x="250.5" y="714.5" font-size="5" textLength="25" lengthAdjust="spacingAndGlyphs">Juan Prim</text>
<text x="259" y="721.8" font-size="4" class="o">+</text>
<rect class="hy" x="297" y="721.5" width="62" height="5.5"/>
<rect class="hy" x="453" y="721.5" width="15" height="5.5"/>
<text x="252" y="726" font-size="4.3" textLength="216" lengthAdjust="spacingAndGlyphs">Intento de sublevación → (Cuartel de San Gil 1866) → Muerte de O'Donnell (1867)  8 meses de Narváez</text>
<text x="378" y="732" font-size="5" class="k">+</text>
<rect class="hg" x="211" y="732.5" width="18" height="7"/>
<text x="205" y="738" font-size="4.5" textLength="50" lengthAdjust="spacingAndGlyphs"><tspan class="g">→</tspan> NARVÁEZ (Moderados)</text>
<text x="210" y="747.5" font-size="4.8" textLength="102" lengthAdjust="spacingAndGlyphs">Crisis económica <tspan class="gr">(1ª graves crisis europeas ferroviarias)</tspan></text>
<text x="226" y="752" font-size="4" class="o">+</text>
<text x="212" y="756.8" font-size="4.8" textLength="35" lengthAdjust="spacingAndGlyphs">Crisis industrial</text>
<text x="226" y="761.5" font-size="4" class="o">+</text>
<text x="210" y="766.5" font-size="4.8" textLength="90" lengthAdjust="spacingAndGlyphs">Crisis financiera <tspan class="gr">(escasez trigo, subsist.)</tspan></text>
<text x="357" y="738.5" font-size="4.3" textLength="108" lengthAdjust="spacingAndGlyphs"><tspan class="b">Progresistas y demócratas</tspan>  +  <tspan class="b">Unión Liberal</tspan> en 1867</text>
<text x="418" y="743.5" font-size="3.5" textLength="47" lengthAdjust="spacingAndGlyphs">(Pacto de Ostende)</text>
<text x="356" y="745.5" font-size="4" textLength="42" lengthAdjust="spacingAndGlyphs">- derrocar a Isabel II</text>
<text x="355" y="753" font-size="4" textLength="67" lengthAdjust="spacingAndGlyphs">- convocar a Cortes Constituyentes</text>
<text x="363" y="762.5" font-size="3.5" textLength="17" lengthAdjust="spacingAndGlyphs">monarquía</text>
<text x="392" y="762.5" font-size="3.5" textLength="18" lengthAdjust="spacingAndGlyphs">República</text>
</g>

<g id="s4-gloriosa">
<text x="201" y="782.5" font-size="5.5" textLength="109" lengthAdjust="spacingAndGlyphs"><tspan class="g">·</tspan> <tspan class="r">SEPTIEMBRE 1868</tspan> → Revolución Gloriosa</text>
<text x="202" y="792.5" font-size="5" textLength="156" lengthAdjust="spacingAndGlyphs">· Se crearon juntas formadas por <tspan class="b">unionistas,</tspan> <tspan class="b">progresistas</tspan> y <tspan class="b">demócratas</tspan></text>
</g>
</svg>
